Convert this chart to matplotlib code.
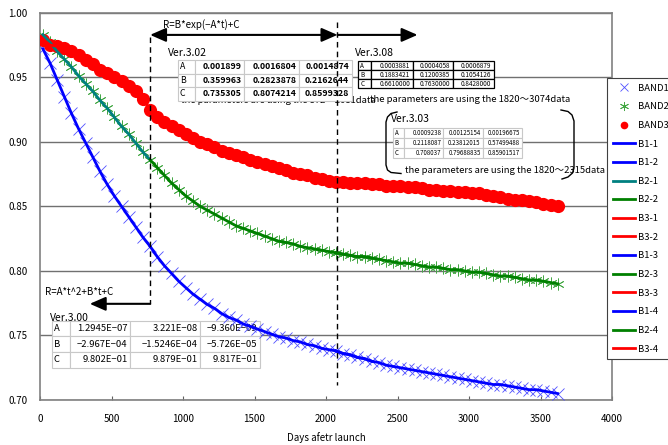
#!/usr/bin/env python
# coding: utf-8

"""
Reflectance degradation of BAND1-3 with fitted curves
"""

import numpy as np
import matplotlib
matplotlib.use("Agg")
import matplotlib.pyplot as plt
import matplotlib.transforms as mtransforms
from matplotlib.patches import Rectangle

# measurement days (every 50 days)
days = list(range(20, 3621, 50))

band1 = [0.972, 0.961, 0.948, 0.935, 0.922, 0.910, 0.899, 0.888, 0.877, 0.867,
         0.858, 0.850, 0.842, 0.834, 0.826, 0.819, 0.811, 0.804, 0.798, 0.792,
         0.787, 0.782, 0.778, 0.774, 0.771, 0.767, 0.764, 0.762, 0.759, 0.757,
         0.755, 0.753, 0.751, 0.749, 0.748, 0.746, 0.745, 0.743, 0.742, 0.740,
         0.739, 0.738, 0.736, 0.735, 0.733, 0.732, 0.730, 0.729, 0.727, 0.726,
         0.725, 0.724, 0.723, 0.722, 0.721, 0.720, 0.719, 0.718, 0.717, 0.716,
         0.715, 0.714, 0.713, 0.712, 0.712, 0.711, 0.710, 0.709, 0.708, 0.708,
         0.707, 0.706, 0.705]

band2 = [0.983, 0.977, 0.970, 0.964, 0.958, 0.951, 0.945, 0.939, 0.932, 0.926,
         0.919, 0.912, 0.906, 0.899, 0.892, 0.886, 0.880, 0.874, 0.868, 0.863,
         0.858, 0.854, 0.850, 0.847, 0.844, 0.841, 0.838, 0.835, 0.833, 0.831,
         0.829, 0.827, 0.825, 0.823, 0.822, 0.821, 0.819, 0.818, 0.817, 0.816,
         0.815, 0.814, 0.813, 0.812, 0.811, 0.811, 0.810, 0.809, 0.808, 0.807,
         0.806, 0.806, 0.805, 0.804, 0.803, 0.803, 0.802, 0.801, 0.801, 0.800,
         0.799, 0.799, 0.798, 0.797, 0.796, 0.796, 0.795, 0.794, 0.793, 0.793,
         0.792, 0.791, 0.790]

band3 = [0.979, 0.975, 0.974, 0.973, 0.970, 0.967, 0.963, 0.960, 0.956, 0.953,
         0.950, 0.947, 0.943, 0.939, 0.933, 0.925, 0.919, 0.915, 0.912, 0.909,
         0.906, 0.903, 0.900, 0.898, 0.896, 0.893, 0.891, 0.890, 0.888, 0.886,
         0.884, 0.883, 0.881, 0.880, 0.878, 0.876, 0.875, 0.874, 0.872, 0.871,
         0.870, 0.869, 0.869, 0.868, 0.868, 0.868, 0.867, 0.867, 0.866, 0.866,
         0.866, 0.865, 0.865, 0.864, 0.863, 0.863, 0.862, 0.862, 0.861, 0.861,
         0.860, 0.860, 0.859, 0.858, 0.857, 0.856, 0.855, 0.855, 0.854, 0.853,
         0.852, 0.851, 0.850]

# segment boundaries of the fits (days)
seg_days = [770, 2080]
ver303_end = 2320

ver302_rows = [["A", "0.001899", "0.0016804", "0.0014874"],
               ["B", "0.359963", "0.2823878", "0.2162644"],
               ["C", "0.735305", "0.8074214", "0.8599328"]]
ver308_rows = [["A", "0.0003881", "0.0004058", "0.0006879"],
               ["B", "0.1883421", "0.1200385", "0.1054126"],
               ["C", "0.6610000", "0.7630000", "0.8428000"]]
ver303_rows = [["A", "0.0009238", "0.00125154", "0.00196675"],
               ["B", "0.2118087", "0.23812015", "0.57499488"],
               ["C", "0.708037", "0.79688835", "0.85901517"]]
ver300_rows = [["A", "1.2945E\u221207", "3.221E\u221208", "\u22129.360E\u221209"],
               ["B", "\u22122.967E\u221204", "\u22121.5246E\u221204", "\u22125.726E\u221205"],
               ["C", "9.802E\u221201", "9.879E\u221201", "9.817E\u221201"]]

plt.rcParams['font.family'] = ['Noto Sans CJK JP', 'DejaVu Sans']
plt.rcParams['font.size'] = 7

W, H = 668, 445
fig = plt.figure(figsize=(W / 100, H / 100), dpi=100)
ax = fig.add_axes([40 / W, 1 - 400 / H, 572 / W, 387.3 / H])

# pixel coordinates (origin top left) for the pasted tables and notes
pix = mtransforms.Affine2D().scale(1.0 / W, -1.0 / H).translate(0, 1) + fig.transFigure

d = np.array(days)
b1 = np.array(band1)
b2 = np.array(band2)
b3 = np.array(band3)

ax.plot(d, b1, ls='none', marker='x', ms=8, mew=0.6, color='#5050ff',
        label='BAND1', zorder=4)
ax.plot(d, b2, ls='none', marker=(6, 2, 0), ms=8.5, mew=0.6, color='#45a845',
        label='BAND2', zorder=4)
ax.plot(d, b3, ls='none', marker='o', ms=9.5, mew=0, color='#ff0000',
        label='BAND3', zorder=4)

m1 = d <= seg_days[0]
m2 = (d >= seg_days[0]) & (d <= seg_days[1])
m3 = d >= seg_days[1] - 10
m4 = (d >= seg_days[1] - 10) & (d <= ver303_end)

lw = 2
ax.plot(d[m1], b1[m1], color='#0000ff', lw=lw, label='B1-1', zorder=5)
ax.plot(d[m2], b1[m2], color='#0000ff', lw=lw, label='B1-2', zorder=5)
ax.plot(d[m1], b2[m1], color='#008080', lw=lw, label='B2-1', zorder=5)
ax.plot(d[m2], b2[m2], color='#008000', lw=lw, label='B2-2', zorder=5)
ax.plot(d[m1], b3[m1], color='#ff0000', lw=lw, label='B3-1', zorder=5)
ax.plot(d[m2], b3[m2], color='#ff0000', lw=lw, label='B3-2', zorder=5)
ax.plot(d[m3], b1[m3], color='#0000ff', lw=lw, label='B1-3', zorder=5)
ax.plot(d[m3], b2[m3], color='#008000', lw=lw, label='B2-3', zorder=5)
ax.plot(d[m3], b3[m3], color='#ff0000', lw=lw, label='B3-3', zorder=5)
ax.plot(d[m4], b1[m4], color='#0000ff', lw=lw, label='B1-4', zorder=5)
ax.plot(d[m4], b2[m4], color='#008000', lw=lw, label='B2-4', zorder=5)
ax.plot(d[m4], b3[m4], color='#ff0000', lw=lw, label='B3-4', zorder=5)

ax.set_xlim(0, 4000)
ax.set_ylim(0.70, 1.00)
ax.set_xticks(np.arange(0, 4001, 500))
ax.set_yticks(np.arange(0.70, 1.001, 0.05))
ax.yaxis.set_major_formatter(plt.FormatStrFormatter('%.2f'))
ax.tick_params(axis='x', direction='in', length=3, pad=10, labelsize=7,
               color='#606060')
ax.tick_params(axis='y', length=0, pad=9, labelsize=7)
ax.grid(axis='y', color='#707070', lw=1)
ax.set_axisbelow(True)
for s in ax.spines.values():
    s.set_color('#808080')
    s.set_linewidth(1.2)
ax.set_xlabel('Days afetr launch', fontsize=7)
ax.xaxis.set_label_coords(0.5, -0.083)

# segment markers and arrows
dash = dict(color='k', lw=1, ls=(0, (4, 3)), zorder=6)
ax.plot([seg_days[0], seg_days[0]], [0.981, 0.7745], **dash)
ax.plot([seg_days[1], seg_days[1]], [0.9928, 0.712], **dash)

arr = dict(color='k', lw=1.5, shrinkA=0, shrinkB=0, mutation_scale=12)
ax.annotate('', xy=(seg_days[0], 0.9828), xytext=(seg_days[1], 0.9828),
            arrowprops=dict(arrowstyle='<|-|>,head_length=0.8,head_width=0.35', **arr),
            annotation_clip=False)
ax.annotate('', xy=(2640, 0.9828), xytext=(seg_days[1], 0.9828),
            arrowprops=dict(arrowstyle='-|>,head_length=0.8,head_width=0.35', **arr),
            annotation_clip=False)
ax.annotate('', xy=(348, 0.7745), xytext=(seg_days[0], 0.7745),
            arrowprops=dict(arrowstyle='-|>,head_length=0.8,head_width=0.35', **arr),
            annotation_clip=False)


def note(x, y, s, fs=7, z=3, **kw):
    ax.text(x, y, s, transform=pix, ha='left', va='center', fontsize=fs,
            zorder=z, clip_on=False, **kw)


def draw_table(x0, y0, col_w, row_h, rows, fs, edge, lw=0.8, bold=False, pad=2.5):
    y = y0
    for r in rows:
        x = x0
        for j, (w, s) in enumerate(zip(col_w, r)):
            ax.add_artist(Rectangle((x, y), w, row_h, transform=pix,
                                    facecolor='white', edgecolor=edge, lw=lw,
                                    zorder=2, clip_on=False))
            if j == 0:
                ax.text(x + 2, y + row_h / 2, s, transform=pix, ha='left',
                        va='center', fontsize=fs, zorder=2.5, clip_on=False)
            else:
                ax.text(x + w - pad, y + row_h / 2, s, transform=pix, ha='right',
                        va='center', fontsize=fs, zorder=2.5, clip_on=False,
                        weight='bold' if bold else 'normal')
            x += w
        y += row_h


note(163, 25, 'R=B*exp(\u2212A*t)+C')
note(168, 53, 'Ver.3.02', fs=7.5)
note(181, 100.5, 'the parameters are using the 872\uff5e2081data', fs=6.8, z=1.5)
draw_table(177.7, 60, [17.3, 49.3, 55, 52.4], 13.6, ver302_rows, 6.3,
           '#c8c8c8', bold=True)

note(355, 53, 'Ver.3.08', fs=7.5)
note(370, 99.5, 'the parameters are using the 1820\uff5e3074data', fs=6.8)
draw_table(358.3, 61, [12.4, 42.6, 40, 40.7], 9.1, ver308_rows, 4.6, 'k',
           lw=0.9, pad=3)

note(391, 118.5, 'Ver.3.03', fs=7.5)
note(405, 170.5, 'the parameters are using the 1820\uff5e2315data', fs=6.8)
draw_table(392.7, 128.3, [11.6, 39, 39.4, 39], 10, ver303_rows, 4.4,
           '#c8c8c8', pad=2)

# brackets round the Ver.3.03 block
ax.plot([397, 391, 387.5, 386, 386, 387.5, 391, 401],
        [112, 113.5, 117, 122, 165, 170, 172.5, 173.5],
        transform=pix, color='k', lw=1, clip_on=False, zorder=3)
ax.plot([561, 568, 572, 574, 574, 572.5, 568, 562],
        [110, 111.5, 115, 121, 168, 173, 177, 179],
        transform=pix, color='k', lw=1, clip_on=False, zorder=3)

note(45, 292.3, 'R=A*t^2+B*t+C')
note(50, 318, 'Ver.3.00', fs=7.5)
draw_table(51.7, 320.5, [18.3, 60, 70, 60], 15.8, ver300_rows, 6.8, '#c8c8c8')

leg = ax.legend(loc='upper left', bbox_to_anchor=(607 / W, 1 - 78 / H),
                bbox_transform=fig.transFigure, borderaxespad=0, fontsize=6.8,
                numpoints=1, handlelength=2.4, handletextpad=0.3,
                labelspacing=1.02, borderpad=0.6, fancybox=False,
                framealpha=1, edgecolor='#404040')
leg.get_frame().set_linewidth(0.8)
leg.legend_handles[2].set_markersize(5.5)
leg.legend_handles[0].set_markersize(6)
leg.legend_handles[1].set_markersize(6.5)
leg.set_zorder(10)

fig.savefig('out.png', dpi=100)
